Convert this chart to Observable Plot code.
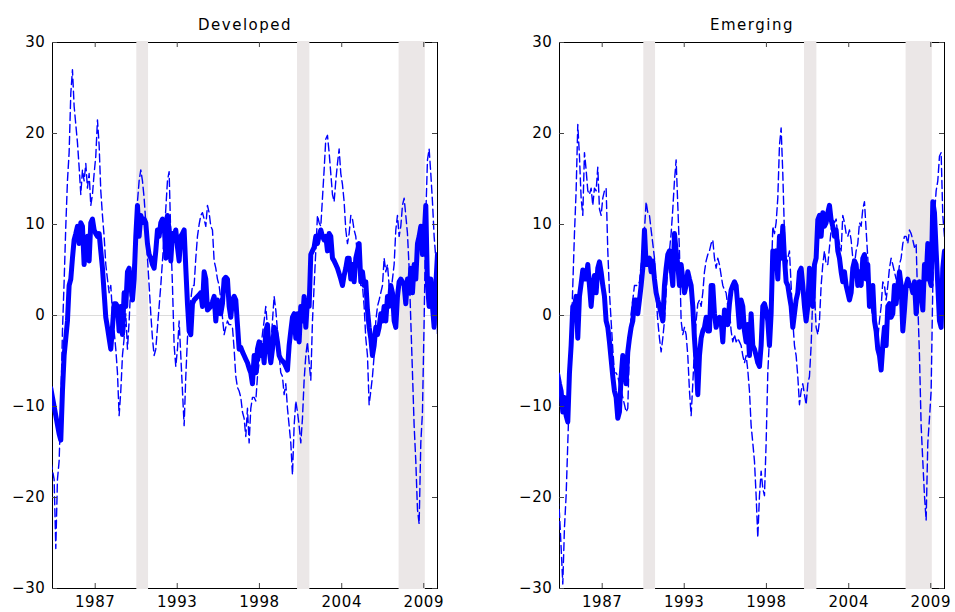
<!DOCTYPE html>
<html><head><meta charset="utf-8">
<script src="https://cdn.jsdelivr.net/npm/d3@7"></script>
<script src="https://cdn.jsdelivr.net/npm/@observablehq/plot@0.6"></script>
<style>
body{margin:0;background:#fff;}
#wrap{display:flex;width:955px;height:612px;}
</style></head><body><div id="wrap"></div>
<script>
const gridStart = 1984.888, gridStep = 0.10931;

const devSolid = [
  -8, -9, -10, -11, -12, -13, -13.7, -8.3, -4.4, -2.5,
  -0.6, 3.3, 4, 6.3, 8.3, 9, 9.8, 7.9, 10.2, 9.8,
  5.6, 7.9, 8.7, 6, 10.2, 10.6, 9.4, 9, 8.7, 9,
  7.1, 5.2, 2.5, -0.2, -1.3, -2.5, -3.7, -1.3, 1.3, 1.3,
  1, -1.7, 1, -2.1, 2.5, 1, 4.8, 5.2, 3.3, 1.7,
  4, 8.7, 12.1, 8.7, 11, 10.2, 10.6, 10.2, 7.9, 6.7,
  6.3, 5.6, 5.2, 7.1, 9.4, 8.7, 10.2, 10.6, 10.2, 6.3,
  11, 9.4, 6, 9, 8.7, 9.4, 7.5, 6, 8.7, 9,
  9.4, 5.2, 1.3, -1.7, -2.1, 1.3, 1.7, 1.9, 2.1, 2.3,
  2.5, 1, 4.8, 4, 0.6, 0.8, 1, 1.5, 2.1, -0.6,
  1.7, 0.6, 0.2, 1.3, 4, 4.2, 4, 1, -0.2, 1.7,
  2.1, 1.7, -1, -3.7,
  -3.5, -4, -4.4, -4.8, -5.2, -5.8, -6.3, -7.5, -4.4, -6.3,
  -3.7, -2.9, -4.4, -3.3, -5.2, -1.7, -1, -3.7, -5.2, -3.7,
  -1.3, -1.7, -2.9, -4.4, -4.8, -5, -5.2, -5.6, -6, -3.3,
  -1.7, -0.2, 0.2, -2.5, 0.2, -2.9, 1, -0.6, 2.1, -1.3,
  1.7, 1, 6.7, 7.1, 7.5, 8.7, 7.9, 8.8, 9.4, 8.7,
  8.3, 8.7, 7.1, 9, 8.7, 6.3, 6, 5.6, 5.2, 4.6,
  4, 3.3, 4.4, 5.2, 6.3, 6.3, 4, 5.6, 3.7, 6.3,
  7.1, 7.9, 3.7, 4.8, 3.3, 3.7, 0.6, -1.3, -2.5, -4.4,
  -3.3, -1.3, -2.1, -1.3, 0.2, -0.6, 1, -0.6, 2.1, 1,
  3.3, 2.5, -0.6, -1.3, 2.1, 3.7, 4, 3.7, 3.3, 1.3,
  4, 2.5, 5.2, 2.5, 5.6, 4, 7.9, 8.7, 9.8, 6.7,
  8.7, 12.1, 3.3, 1, 4, 1, -1.3, 3.3, 6.7];

const devDashed = [
  -16, -17, -18, -25.6, -18, -16, -10, -1.7, 3.7, 9.8,
  14.8, 17.9, 24.4, 27, 23, 21, 19, 16.3, 13.3, 16,
  14.8, 16.7, 14, 15.6, 12.1, 13.3, 15.6, 17.5, 21.5, 18.7,
  13.7, 11, 8.7, 5.6, 4, 2.5, 3.3, 0.2, -1.7, -3.7,
  -6.3, -11, -8.3, -4.4, -2.5, 0.2, -3.7, -0.6, 3.3, 4.8,
  6.3, 8.7, 12.5, 14.8, 16, 14.8, 12.9, 10.2, 6.3, 3.3,
  0.2, -2.5, -4.4, -3.7, -1.3, 1, 3.3, 6, 8.7, 11.7,
  14.8, 15.8, 8.7, 3.3, -3.3, -5.6, -3.7, -0.6, -4.4, -8.3,
  -12.1, -6.7, -2.5, 0.2, 1.7, 3.3, 3.3, 6.3, 8.7, 10,
  11, 11.3, 10.6, 9.8, 12.1, 11.3, 9.8, 9.4, 6, 5.2,
  4, 3.3, 1.7, -0.2, -2.1, -1.3, -0.6, -1, -1, -1.3,
  -3.7, -6.7, -7.9, -8.3,
  -9, -10.6, -11.3, -13.3, -10.2, -14, -10.2, -9, -9, -9.4,
  -6.7, -5.2, -3.7, -2, -0.6, 1, -1.3, -2.3, -3.3, -0.6,
  2.1, 0.6, -1.7, -4.4, -6.3, -6.7, -8.7, -7.5, -10.2, -12.1,
  -14, -17.5, -12.1, -9.4, -10.6, -12.1, -14, -11.3, -7.1, -4.4,
  -2.9, -5.2, -7.1, -0.6, 3.3, 7.1, 11, 10.2, 9.8, 12.9,
  16, 19.4, 19.8, 17.9, 15.6, 13.3, 12.5, 14.8, 16.7, 18.3,
  15.6, 14.4, 12.5, 9.4, 7.9, 9, 11, 10.6, 9.4, 8.7,
  6.3, 4.8, 3.3, 3.3, 1, -2.5, -4.4, -9.8, -8.3, -6.7,
  -4.4, -0.6, 1, 1.7, 2.5, 3.3, 6.3, 4.8, 5.6, 3.3,
  2.5, 4, 5.6, 9.4, 11, 8.7, 9.8, 12.1, 12.9, 11,
  9, 5.2, -0.6, -6.3, -12.1, -16, -21.3, -22.9, -14, -10.6,
  -0.6, 11, 17.1, 18.3, 15.6, 12.5, 8.7, 6.3, -2];

const emSolid = [
  -6.5, -7.5, -8.3, -10.6, -9, -11, -11.7, -6.3, -3.3, 1,
  1, 2.1, -2.5, 2.1, 3.5, 5, 4, 4, 5.6, 3.3,
  1, 3.3, 4.4, 2.5, 5.2, 5.9, 4.8, 3.3, 2.1, -0.6,
  -1.3, -2.9, -4.8, -6.7, -8.3, -9, -11.3, -10.6, -6.7, -4.4,
  -5.6, -7.5, -4, -2.5, -1.3, -0.6, 1.7, 1.7, 0.2, 1.7,
  3.3, 5.2, 9.4, 5.6, 5.6, 6.3, 4.8, 6, 4, 2.5,
  1.7, 1, 0.2, -0.6, 3.3, 5.2, 6.7, 7.1, 5.2, 3.3,
  9, 7.1, 5.6, 3.3, 5.6, 4, 2.5, 3.3, 4.8, 4,
  3.3, 1, -2.5, -5.2, -8.7, -4.4, -2.5, -1.7, -1.3, -0.2,
  -1.7, -1.7, 3.3, 3.3, 0.2, -1.3, -0.6, -0.2, -0.6, -2.9,
  0.6, -0.2, -1, 1.3, 2.8, 3.3, 3.7, 3.3, 1, -1.3,
  1.7, 1, -1.7, -2.9,
  -1, -4.4, 0.2, -3.3, -3.7, -4.4, -5.2, -5.6, -3.3, 1,
  1.3, 0.6, -0.6, -3.3, 0.2, 7.1, 6.3, 7.1, 4, 8.7,
  6.3, 9.8, 6.3, 3.7, 3.3, 2.1, 1, -1.3, 0.2, 1.7,
  2.5, 4.8, 5.2, 3.3, 1, -0.6, 1, 5.2, 4, 1,
  5.6, 6.3, 10.5, 11, 8.7, 11.3, 9.8, 10.2, 11.3, 12.1,
  10.5, 9.8, 8.7, 9.4, 7.1, 6.3, 4.8, 3.7, 4.8, 3.3,
  2.5, 1.7, 2.5, 5.2, 6, 5.6, 3.3, 4.8, 3.3, 6.3,
  6.7, 4, 5.6, 1, 2.5, 3.3, -0.6, -1.7, -3.7, -4.4,
  -6, -3.3, -1.3, -3.3, 1, 1.3, -0.2, 0.2, 3.3, 1.3,
  3.3, 4.8, 3.3, -1.7, 0.6, 3.3, 4, 3.3, 3.3, 2.5,
  3.7, 0.2, 2.5, 3.7, 2.5, 0.6, 5.6, 4, 7.9, 4,
  3.3, 12.5, 11.3, 7.1, 3.3, -0.6, -1.3, 5.2, 7.1];

const emDashed = [
  -20, -21.7, -25.5, -29.5, -23.3, -19.8, -14, -8.3, -2.5, 3.3,
  9, 13.7, 21, 17.5, 12.9, 11, 17.9, 16, 13.7, 13.3,
  14, 12.1, 14, 13.7, 16.3, 11.7, 11, 12.9, 13.7, 14,
  7.1, 2.5, -0.6, -3.7, -6.3, -6.3, -6.7, -7.5, -8.3, -9,
  -9.8, -10.6, -10.2, -3.3, 0.2, 1.7, 3.3, 3.3, 3.3, 3.7,
  5.6, 7.1, 9.4, 12.5, 11.3, 11, 9.4, 7.9, 6.3, 2.1,
  -0.6, -2.5, -4, -2.5, -0.6, 2.5, 5.2, 7.1, 9, 11.7,
  14.8, 17.1, 12.1, 7.1, -0.6, -2.1, -1.3, -2.1, -4.4, -8.3,
  -11, -7.5, -3.7, -0.6, 1.3, 1.7, 1, 2.5, 4.8, 6,
  6.7, 7.1, 7.9, 8.3, 6.3, 5.2, 6.3, 5.6, 4.4, 3.3,
  2.8, 2.5, 1, 0.6, -1.7, -2.9, -2.1, -2.9, -2.5, -2.9,
  -3.3, -4.4, -5.2, -4.4,
  -6, -8.3, -12.1, -14, -16, -19.8, -24.4, -19.8, -17.1, -19,
  -19.8, -14, -6.3, -2.5, 3.3, 9.8, 9, 10.2, 12.9, 18.7,
  20.6, 15.6, 9, 5.2, 6.3, 7.1, 3.3, -0.6, -3.3, -4.4,
  -6.7, -9.8, -8.3, -7.5, -8.7, -9.8, -7.5, -6.7, -3.3, 2.1,
  2.5, -1.3, -2.1, -0.6, 3.3, 5.6, 7.1, 5.6, 5.6, 7.5,
  9.4, 10.6, 10.2, 10.6, 8.7, 7.9, 7.1, 11, 10.2, 9,
  8.7, 9.4, 8.3, 6.3, 5.6, 7.1, 7.9, 10.2, 9.8, 11.7,
  12.5, 9.4, 6.3, 2.5, 1, -0.2, -0.6, -1.3, -2.5, -0.6,
  1, 3.7, 3.3, 1.7, 3.3, 5.2, 6.3, 5.6, 4.8, 4,
  4, 5.6, 6.3, 7.9, 8.7, 8.7, 7.9, 9.4, 9, 8.3,
  7.5, 7.9, 1.3, -4.4, -12.1, -16, -19.8, -22.5, -14, -11.3,
  -8.3, 3.3, 11, 13.7, 14.8, 17.5, 17.9, 11, 8.7];

const recessionStart = [1990.53, 2001.07, 2007.73];
const recessionEnd = [1991.3, 2001.88, 2009.45];

const xDomain = [1985, 2010.25];
const yDomain = [-30, 30];
const xTickValues = [1987.8, 1993.18, 1998.57, 2003.97, 2009.35];
const xTickLabels = ["1987", "1993", "1998", "2004", "2009"];
const yTickValues = [-30, -20, -10, 0, 10, 20, 30];

const panelTitles = ["Developed", "Emerging"];

const recessions = recessionStart.map((s, i) => ({start: s, end: recessionEnd[i]}));

const layouts = [
  {width: 477, marginLeft: 52, marginRight: 40},
  {width: 478, marginLeft: 82, marginRight: 11}
];
const seriesSets = [[devSolid, devDashed], [emSolid, emDashed]];

const fmtY = d => d < 0 ? "\u2212" + Math.abs(d) : String(d);

function makePanel(k) {
  const [solid, dashed] = seriesSets[k];
  const L = layouts[k];
  const rows = solid.map((v, i) => ({date: gridStart + i * gridStep, solid: v, dashed: dashed[i]}));
  const H = 612, mt = 42, mb = 24;
  const innerW = L.width - L.marginLeft - L.marginRight, innerH = H - mt - mb;
  const tick = 5;
  const svg = Plot.plot({
    width: L.width, height: H,
    marginTop: mt, marginBottom: mb, marginLeft: L.marginLeft, marginRight: L.marginRight,
    style: {fontFamily: '"DejaVu Sans", sans-serif', fontSize: "15px", color: "black", background: "white", overflow: "visible", letterSpacing: "0.6px"},
    x: {domain: xDomain},
    y: {domain: yDomain},
    marks: [
      Plot.ruleY([0], {stroke: "#dcdcdc", strokeWidth: 1}),
      Plot.frame({stroke: "black", strokeWidth: 1}),
      Plot.rect(recessions, {x1: "start", x2: "end", fill: "#ebe7e7", insetTop: -1, insetBottom: -1}),
      Plot.line(rows, {x: "date", y: "dashed", stroke: "#0000ff", strokeWidth: 1.4, strokeDasharray: "8,4", clip: true}),
      Plot.line(rows, {x: "date", y: "solid", stroke: "#0000ff", strokeWidth: 5, strokeLinejoin: "round", clip: true}),
      Plot.tickX(xTickValues, {x: d => d, stroke: "#444", insetTop: innerH - tick}),
      Plot.tickX(xTickValues, {x: d => d, stroke: "#444", insetBottom: innerH - tick}),
      Plot.tickY(yTickValues, {y: d => d, stroke: "#444", insetRight: innerW - tick}),
      Plot.tickY(yTickValues, {y: d => d, stroke: "#444", insetLeft: innerW - tick}),
      Plot.axisX(xTickValues, {anchor: "bottom", tickSize: 0, tickPadding: 8, fontSize: 15,
        tickFormat: d => xTickLabels[xTickValues.indexOf(d)]}),
      Plot.axisY(yTickValues, {anchor: "left", tickSize: 0, tickPadding: 7, fontSize: 15, tickFormat: fmtY}),
      Plot.text([panelTitles[k]], {text: d => d, frameAnchor: "top", dy: -13, lineAnchor: "bottom", fontSize: 15, fill: "black"})
    ]
  });
  svg.querySelectorAll('g[aria-label="text"] text').forEach(t => t.style.letterSpacing = "1.5px");
  return svg;
}

const wrap = document.getElementById("wrap");
wrap.appendChild(makePanel(0));
wrap.appendChild(makePanel(1));
</script>
</body></html>
